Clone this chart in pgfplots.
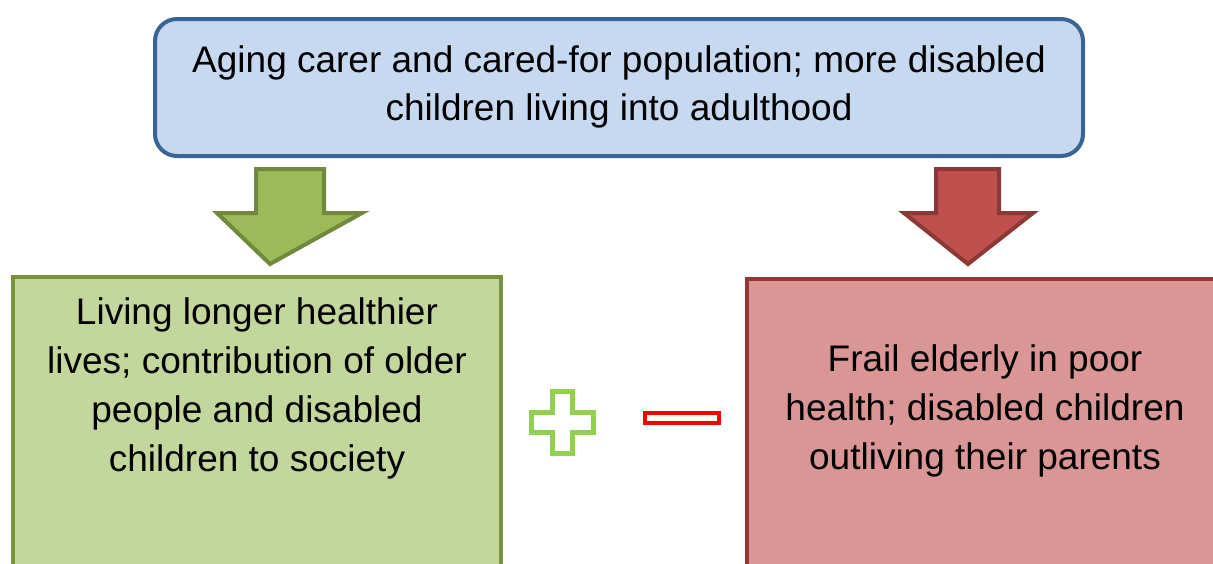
\documentclass[border=0pt]{standalone}
\usepackage{pgfplots}
\pgfplotsset{compat=1.18}
\usepackage{fontspec}
\setmainfont{Liberation Sans}
\definecolor{topfill}{HTML}{C6D9F1}
\definecolor{topdraw}{HTML}{3A6496}
\definecolor{gfill}{HTML}{9BBB59}
\definecolor{gdraw}{HTML}{71893F}
\definecolor{gbox}{HTML}{C3D69B}
\definecolor{gboxd}{HTML}{76923C}
\definecolor{rfill}{HTML}{C0504D}
\definecolor{rdraw}{HTML}{8C3836}
\definecolor{rbox}{HTML}{D99694}
\definecolor{rboxd}{HTML}{943634}
\definecolor{plusc}{HTML}{92D050}
\begin{document}
\begin{tikzpicture}
\begin{axis}[
  scale only axis, width=1213pt, height=563pt,
  xmin=0, xmax=1213, ymin=0, ymax=563, y dir=reverse,
  hide axis, clip=true,
]
\path (axis cs:0,0) rectangle (axis cs:1213,563);
% top box
\draw[line width=4pt, draw=topdraw, fill=topfill, rounded corners=22pt]
  (axis cs:155,19) rectangle (axis cs:1083,156);
\node[align=center, font=\fontsize{37}{48}\selectfont, inner sep=0pt]
  at (axis cs:619,87) {Aging carer and cared-for population; more disabled\\children living into adulthood};
% green arrow
\addplot[line width=4pt, draw=gdraw, fill=gfill, line join=miter] coordinates {
  (256,169) (324,169) (324,213) (362,213) (270,264) (217,213) (256,213) (256,169)} --cycle;
% red arrow
\addplot[line width=4pt, draw=rdraw, fill=rfill, line join=miter] coordinates {
  (936,169) (999,169) (999,213) (1033,213) (968,264) (904,213) (936,213) (936,169)} --cycle;
% green box
\draw[line width=4pt, draw=gboxd, fill=gbox] (axis cs:13,277) rectangle (axis cs:501,620);
\node[align=center, font=\fontsize{37}{49}\selectfont, inner sep=0pt]
  at (axis cs:257,388) {Living longer healthier\\lives; contribution of older\\people and disabled\\children to society};
% red box
\draw[line width=4pt, draw=rboxd, fill=rbox] (axis cs:747,279) rectangle (axis cs:1260,620);
\node[align=center, font=\fontsize{37}{49}\selectfont, inner sep=0pt]
  at (axis cs:985,411) {Frail elderly in poor\\health; disabled children\\outliving their parents};
% plus
\addplot[line width=5pt, draw=plusc, fill=white, line join=miter] coordinates {
  (552,391) (572,391) (572,412) (593,412) (593,432) (572,432) (572,453) (552,453)
  (552,432) (531,432) (531,412) (552,412) (552,391)} --cycle;
% minus
\addplot[line width=4pt, draw=red, fill=white, line join=miter] coordinates {
  (645,413) (719,413) (719,423) (645,423) (645,413)} --cycle;
\end{axis}
\end{tikzpicture}
\end{document}
